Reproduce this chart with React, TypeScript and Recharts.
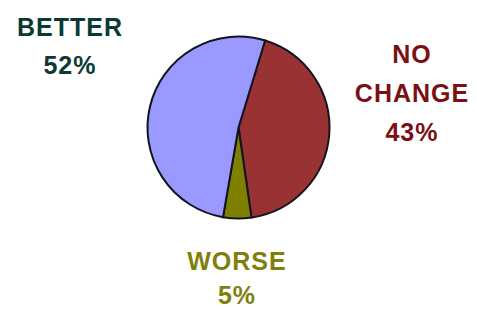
import { PieChart, Pie, Cell } from 'recharts';

// slice order goes clockwise from the top-right edge of NO CHANGE
const categories = ['NO CHANGE', 'WORSE', 'BETTER'];
const shares = [43, 5, 52];

const data = categories.map((name, i) => ({ name, value: shares[i] }));

const fills = ['#993333', '#808000', '#9999ff'];
const textColors = ['#7a0f14', '#7f7f0c', '#0b3a33'];

// where each label's lines sit (x centre, baselines)
const labelSpots = [
  { x: 412, lines: [63, 102, 141] },
  { x: 237, lines: [270, 304] },
  { x: 70, lines: [36, 74] },
];

const labelLines = (name: string, value: number) => {
  const words = name === 'NO CHANGE' ? ['NO', 'CHANGE'] : [name];
  return [...words, `${value}%`];
};

const renderLabel = (props: any) => {
  const { index, name, value } = props;
  const spot = labelSpots[index];
  const lines = labelLines(name, value);
  return (
    <g key={`lbl-${index}`}>
      {lines.map((t, j) => (
        <text
          key={j}
          x={spot.x}
          y={spot.lines[j]}
          textAnchor="middle"
          fill={textColors[index]}
          fontFamily="'Liberation Sans', Arial, sans-serif"
          fontWeight="bold"
          fontSize={25}
          letterSpacing={1}
        >
          {t}
        </text>
      ))}
    </g>
  );
};

export default function App() {
  return (
    <div style={{ position: 'absolute', left: 0, top: 0, width: 477, height: 309, background: '#fff' }}>
      <PieChart width={477} height={309}>
        <Pie
          data={data}
          dataKey="value"
          nameKey="name"
          cx={233.5}
          cy={122.5}
          outerRadius={91}
          startAngle={73}
          endAngle={-287}
          stroke="#141420"
          strokeWidth={2}
          label={renderLabel}
          labelLine={false}
          isAnimationActive={false}
        >
          {data.map((d, i) => (
            <Cell key={d.name} fill={fills[i]} />
          ))}
        </Pie>
      </PieChart>
    </div>
  );
}
